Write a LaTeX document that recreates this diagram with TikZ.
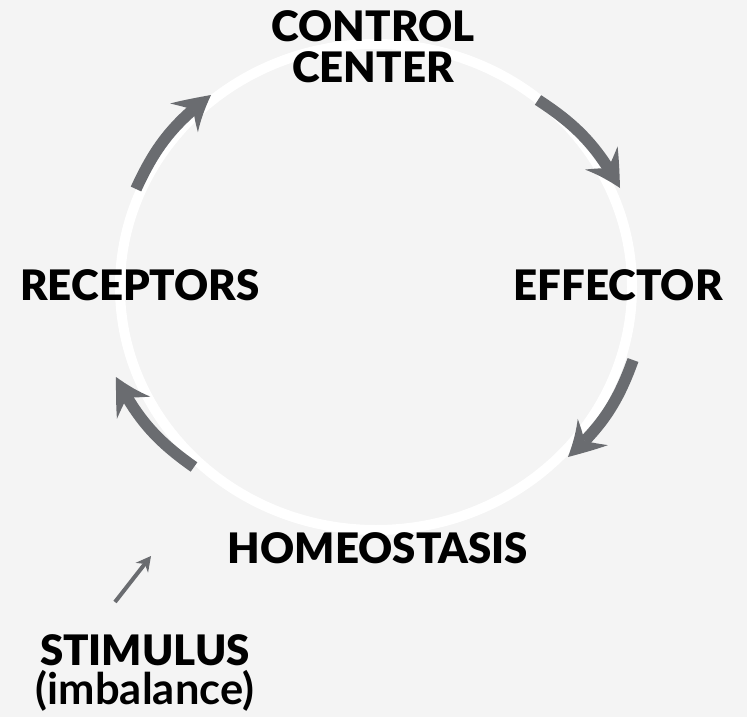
\documentclass[tikz,border=0pt]{standalone}
\usepackage{fontspec}
\setmainfont{Lato}
\newfontfamily\heavy{Lato Black}
\usetikzlibrary{arrows.meta,bending}
\definecolor{bg}{HTML}{F4F4F4}
\definecolor{arr}{HTML}{6A6C70}
\begin{document}
\begin{tikzpicture}[x=1pt,y=-1pt,
  lbl/.style={anchor=base, inner sep=0pt, font=\heavy\fontsize{42}{40}\selectfont, align=center},
  sublbl/.style={anchor=base, inner sep=0pt, font=\bfseries\fontsize{43.5}{40}\selectfont},
  cyc/.style={draw=arr, line width=11.5pt, bend left=14,
    -{Stealth[length=38pt,width=40pt,inset=14pt,line width=0pt,bend]}},
  stim/.style={draw=arr, line width=4pt,
    -{Stealth[length=15pt,width=16pt,inset=5pt,line width=0pt]}}]
\fill[bg] (0,0) rectangle (747,717);
\useasboundingbox (0,0) rectangle (747,717);
\draw[white, line width=10pt] (376,287) ellipse [x radius=256, y radius=243];

\node[lbl] (cc) at (373,82) {CONTROL\\CENTER};
\node[lbl] (rec) at (140,300) {RECEPTORS};
\node[lbl] (eff) at (618,300) {EFFECTOR};
\node[lbl] (hom) at (378,563) {HOMEOSTASIS};
\node[lbl] (sti) at (145,665) {STIMULUS};
\node[sublbl] (imb) at (145,704) {(imbalance)};

\coordinate (a1s) at (136,189); \coordinate (a1e) at (211,95);
\coordinate (a2s) at (538,100); \coordinate (a2e) at (620,188);
\coordinate (a3s) at (633,360); \coordinate (a3e) at (568,457);
\coordinate (a4s) at (194,467); \coordinate (a4e) at (116,377);
\coordinate (s1) at (115,602); \coordinate (s2) at (151,556);

\draw[cyc] (a1s) to (a1e);
\draw[cyc] (a2s) to (a2e);
\draw[cyc] (a3s) to (a3e);
\draw[cyc] (a4s) to (a4e);
\draw[stim] (s1) -- (s2);
\end{tikzpicture}
\end{document}
